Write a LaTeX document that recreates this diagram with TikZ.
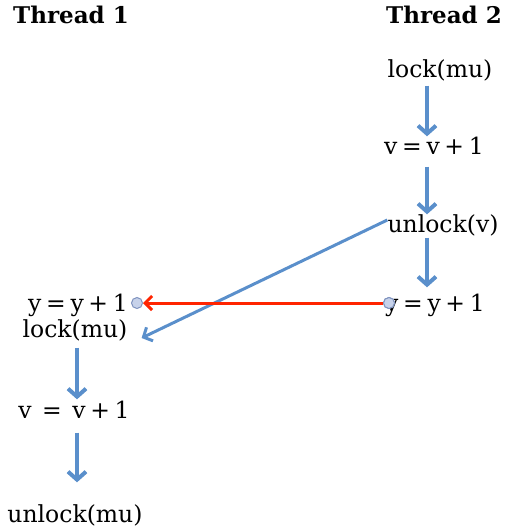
\documentclass[tikz,border=0pt]{standalone}
\usepackage{fontspec}
\setmainfont{DejaVu Serif}
\newfontfamily\headfont{DejaVu Serif}
\usetikzlibrary{arrows.meta}
\definecolor{flowblue}{HTML}{5A8FCB}
\definecolor{racered}{HTML}{FF2400}
\definecolor{dotfill}{HTML}{C7D2EA}
\definecolor{dotline}{HTML}{7F93BF}
\newcommand{\nsp}{\hspace{0.2em}}
\newcommand{\wsp}{\hspace{0.45em}}
\tikzset{
  head/.style={inner sep=0pt, font=\headfont\bfseries\fontsize{23}{27}\selectfont},
  txt/.style={inner sep=0pt, text height=18pt, text depth=5pt, font=\fontsize{23.5}{28}\selectfont},
  varrow/.style={draw=flowblue, line width=4pt, -{Straight Barb[length=8pt,width=18pt]}, line join=round},
  darrow/.style={draw=flowblue, line width=3pt, -{Straight Barb[length=7pt,width=15pt]}},
  rarrow/.style={draw=racered, line width=3pt, -{Straight Barb[length=7pt,width=14pt]}},
  dot/.style={circle, inner sep=0pt, minimum size=11pt, fill=dotfill, draw=dotline, line width=1pt}
}
\begin{document}
\begin{tikzpicture}[x=1pt,y=-1pt]
\useasboundingbox (0,0) rectangle (505,531);
\node[head] (t1) at (71,15) {Thread 1};
\node[head] (t2) at (444,15) {Thread 2};
\node[txt] (b1) at (440,71) {lock(mu)};
\node[txt] (b2) at (434,148) {v\nsp=\nsp v\nsp+\nsp1};
\node[txt] (b3) at (443,226) {unlock(v)};
\node[txt] (b4) at (435,305) {y\nsp=\nsp y\nsp+\nsp1};
\node[txt] (a1) at (78,305) {y\nsp=\nsp y\nsp+\nsp1};
\node[txt] (a2) at (75,331) {lock(mu)};
\node[txt] (a3) at (74,412) {v\wsp=\wsp v\nsp+\nsp1};
\node[txt] (a4) at (75,516) {unlock(mu)};
\coordinate (rx) at (427,0);
\coordinate (lx) at (77,0);
\draw[varrow, shorten <=3pt] (b1.south -| rx) -- (b2.north -| rx);
\draw[varrow, shorten <=7pt] (b2.south -| rx) -- (b3.north -| rx);
\draw[varrow, shorten >=6pt] (b3.south -| rx) -- (b4.north -| rx);
\draw[varrow, shorten <=5pt, shorten >=1pt] (a2.south -| lx) -- (a3.north -| lx);
\draw[varrow, shorten <=9pt, shorten >=22pt] (a3.south -| lx) -- (a4.north -| lx);
\draw[darrow] ([yshift=6pt]b3.west) -- ([xshift=14pt,yshift=-7pt]a2.east);
\node[dot] (cr) at (389,303) {};
\node[dot] (cl) at (137,303) {};
\draw[rarrow] (cr.west) -- (cl.east);
\node[dot] at (cr) {};
\end{tikzpicture}
\end{document}
